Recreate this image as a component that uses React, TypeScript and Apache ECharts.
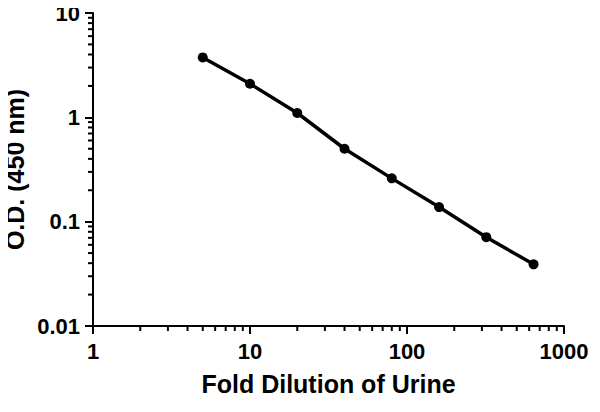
import React, { useEffect, useRef } from "react";
import * as echarts from "echarts";

const dilutions = [5, 10, 20, 40, 80, 160, 320, 640];
const odValues = [3.75, 2.1, 1.1, 0.5, 0.26, 0.138, 0.071, 0.039];
const xMinorTicks = [2, 3, 4, 5, 6, 7, 8, 9, 20, 30, 40, 50, 60, 70, 80, 90, 200, 300, 400, 500, 600, 700, 800, 900];
const yMinorTicks = [0.02, 0.03, 0.04, 0.05, 0.06, 0.07, 0.08, 0.09, 0.2, 0.3, 0.4, 0.5, 0.6, 0.7, 0.8, 0.9, 2, 3, 4, 5, 6, 7, 8, 9];

const FONT = "'Liberation Sans', Arial, sans-serif";

export default function App() {
  const ref = useRef<HTMLDivElement>(null);
  useEffect(() => {
    if (!ref.current) return;
    const chart = echarts.init(ref.current, null, { renderer: "svg" });
    const fmt = (v: number) => String(Number(v.toPrecision(3)));
    chart.setOption({
      animation: false,
      backgroundColor: "#fff",
      grid: { left: 93, right: 36, top: 13, bottom: 86, containLabel: false, outerBoundsMode: "none" },
      xAxis: {
        type: "log",
        logBase: 10,
        min: 1,
        max: 1000,
        name: "Fold Dilution of Urine",
        nameLocation: "middle",
        nameGap: 45,
        nameMoveOverlap: false,
        nameTextStyle: { color: "#000", fontSize: 25, fontWeight: "bold", fontFamily: FONT },
        axisLine: { show: true, lineStyle: { color: "#000", width: 2 } },
        axisTick: { show: true, inside: false, length: 8, lineStyle: { color: "#000", width: 2 } },
        axisLabel: { color: "#000", fontSize: 22, fontWeight: "bold", fontFamily: FONT, margin: 14, formatter: fmt },
        splitLine: { show: false },
      },
      yAxis: {
        type: "log",
        logBase: 10,
        min: 0.01,
        max: 10,
        name: "O.D. (450 nm)",
        nameLocation: "middle",
        nameGap: 66,
        nameRotate: 90,
        nameMoveOverlap: false,
        nameTextStyle: { color: "#000", fontSize: 25, fontWeight: "bold", fontFamily: FONT },
        axisLine: { show: true, lineStyle: { color: "#000", width: 2 } },
        axisTick: { show: true, inside: false, length: 8, lineStyle: { color: "#000", width: 2 } },
        axisLabel: { color: "#000", fontSize: 22, fontWeight: "bold", fontFamily: FONT, margin: 13, formatter: fmt },
        splitLine: { show: false },
      },
      series: [
        {
          type: "line",
          data: dilutions.map((d, i) => [d, odValues[i]]),
          symbol: "circle",
          symbolSize: 10,
          lineStyle: { color: "#000", width: 3.5 },
          itemStyle: { color: "#000" },
          silent: true,
        },
        {
          type: "custom",
          clip: false,
          silent: true,
          data: xMinorTicks.map((v) => [v, 0.01]),
          renderItem: (params: any, api: any) => {
            const p = api.coord([api.value(0), api.value(1)]);
            return {
              type: "line",
              shape: { x1: p[0], y1: p[1], x2: p[0], y2: p[1] + 5 },
              style: { stroke: "#000", lineWidth: 2 },
            };
          },
        },
        {
          type: "custom",
          clip: false,
          silent: true,
          data: yMinorTicks.map((v) => [1, v]),
          renderItem: (params: any, api: any) => {
            const p = api.coord([api.value(0), api.value(1)]);
            return {
              type: "line",
              shape: { x1: p[0], y1: p[1], x2: p[0] - 5, y2: p[1] },
              style: { stroke: "#000", lineWidth: 2 },
            };
          },
        },
      ],
    });
    return () => chart.dispose();
  }, []);
  return <div ref={ref} style={{ width: 600, height: 412, margin: -8 }} />;
}
